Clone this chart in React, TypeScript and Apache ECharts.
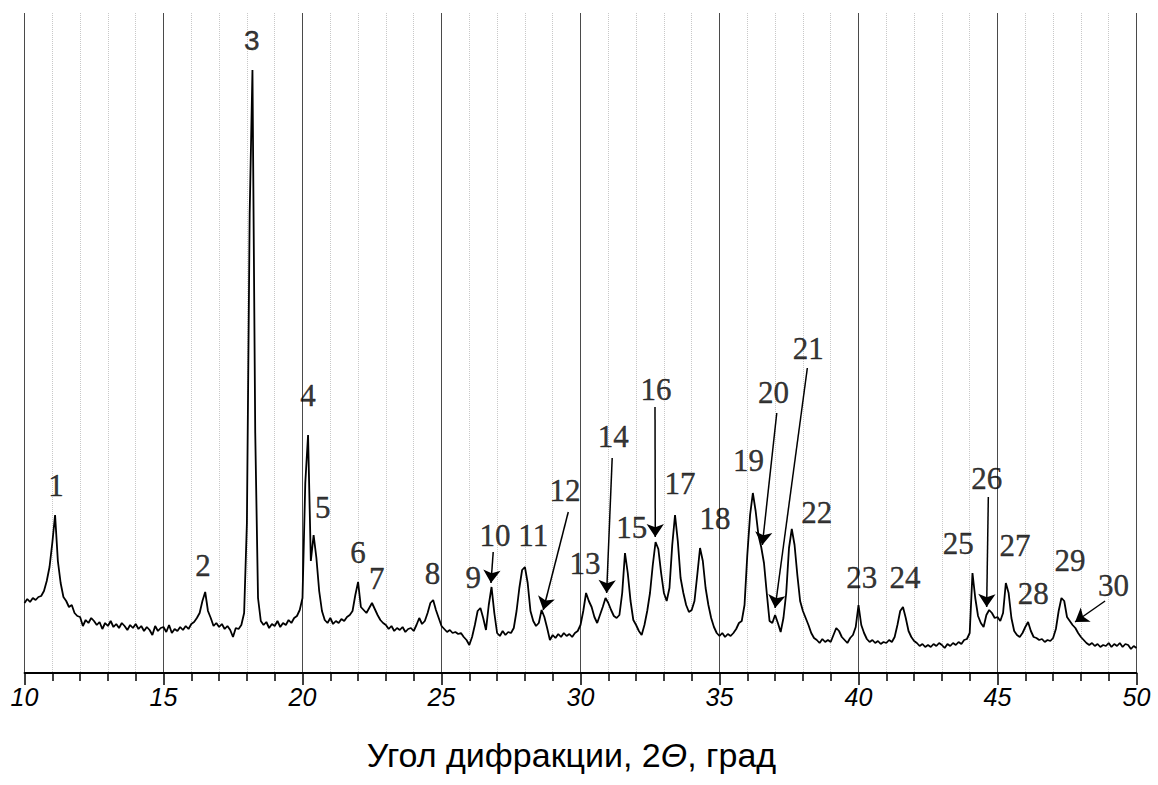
import React, { useEffect, useRef } from "react";
import * as echarts from "echarts";

// 2θ grid: start and step (degrees)
const thetaStart = 10;
const thetaStep = 0.1;

// Intensity, one row per degree (10.0 .. 10.9, 11.0 .. 11.9, ...)
const intensity: number[] = [
  70, 74, 71, 75, 73, 76, 77, 82, 92, 106,
  130, 158, 112, 90, 76, 72, 66, 68, 60, 57,
  56, 47, 53, 50, 55, 52, 48, 51, 44, 50,
  47, 52, 46, 49, 45, 50, 47, 43, 48, 45,
  49, 44, 47, 42, 46, 43, 38, 47, 42, 45,
  46, 41, 48, 40, 44, 42, 46, 43, 47, 44,
  49, 51, 55, 60, 72, 81, 62, 55, 47, 50,
  46, 49, 44, 47, 43, 36, 45, 44, 48, 60,
  150, 460, 603, 240, 75, 52, 48, 51, 45, 49,
  47, 52, 46, 50, 48, 53, 50, 55, 57, 63,
  75, 190, 238, 112, 138, 115, 82, 62, 53, 50,
  55, 49, 52, 50, 54, 52, 56, 58, 62, 78,
  91, 66, 63, 60, 65, 70, 64, 58, 53, 50,
  48, 44, 47, 42, 45, 43, 46, 41, 44, 45,
  42, 48, 55, 49, 52, 60, 70, 73, 63, 55,
  47, 44, 41, 43, 40, 41, 39, 40, 36, 33,
  28, 36, 48, 62, 65, 55, 43, 68, 86, 60,
  40, 37, 42, 38, 41, 40, 45, 62, 85, 103,
  106, 90, 62, 52, 47, 50, 63, 56, 45, 33,
  38, 35, 39, 36, 40, 37, 39, 36, 40, 42,
  48, 62, 80, 72, 66, 56, 50, 58, 66, 75,
  70, 63, 57, 55, 58, 80, 120, 100, 72, 53,
  48, 42, 38, 48, 62, 80, 108, 131, 124, 100,
  80, 72, 85, 128, 158, 132, 95, 80, 68, 61,
  63, 72, 98, 125, 112, 85, 68, 55, 46, 40,
  37, 40, 36, 39, 37, 40, 44, 50, 52, 68,
  118, 158, 180, 162, 138, 126, 110, 80, 52, 50,
  58, 50, 41, 55, 80, 125, 144, 128, 98, 72,
  62, 55, 48, 40, 35, 33, 30, 34, 31, 33,
  31, 38, 45, 42, 36, 33, 30, 35, 38, 46,
  68, 48, 40, 34, 31, 33, 30, 32, 29, 31,
  30, 33, 31, 36, 48, 62, 66, 55, 42, 36,
  32, 30, 27, 29, 26, 28, 26, 29, 27, 30,
  28, 25, 29, 27, 30, 28, 31, 29, 33, 34,
  40, 100, 75, 57, 50, 46, 58, 63, 60, 55,
  56, 52, 60, 90, 80, 55, 42, 38, 36, 40,
  46, 51, 42, 36, 35, 33, 34, 31, 33, 32,
  35, 44, 62, 75, 72, 56, 52, 48, 45, 40,
  36, 33, 30, 28, 30, 27, 29, 26, 28, 27,
  30, 26, 29, 27, 30, 26, 29, 28, 24, 27,
  25,
];

// Peak labels (text, position in 2θ / intensity units)
const peakLabels = ["1", "2", "3", "4", "5", "6", "7", "8", "9", "10", "11", "12", "13", "14", "15",
  "16", "17", "18", "19", "20", "21", "22", "23", "24", "25", "26", "27", "28", "29", "30"];
const peakLabelTheta = [11.13, 16.42, 18.18, 20.2, 20.73, 22.0, 22.67, 24.68, 26.14, 26.92, 28.3, 29.44,
  30.16, 31.18, 31.84, 32.72, 33.58, 34.84, 36.04, 36.94, 38.19, 38.5, 40.12, 41.67, 43.59, 44.61,
  45.63, 46.29, 47.61, 49.17];
const peakLabelI = [188, 108, 633, 278, 166, 121, 95, 100, 96, 138, 138, 183, 110, 237, 146, 284, 190,
  155, 213, 281, 325, 161, 96, 96, 130, 195, 128, 80, 113, 88];
const sansLabels = ["3"];

// Arrows: [θ start, I start, θ tip, I tip]
const arrowFromTheta = [26.86, 29.56, 31.14, 32.68, 37.06, 38.16, 44.67, 48.87];
const arrowFromI = [121, 161, 215, 266, 260, 305, 176, 72];
const arrowToTheta = [26.78, 28.66, 30.94, 32.69, 36.54, 37.0, 44.61, 47.79];
const arrowToI = [90, 63, 80, 136, 128, 65, 66, 51];

const xMin = 10;
const xMax = 50;
const xInterval = 5;
const yMin = 0;
const yMax = 660;

export default function App() {
  const ref = useRef<HTMLDivElement>(null);
  useEffect(() => {
    if (!ref.current) return;
    const chart = echarts.init(ref.current, undefined, { renderer: "svg" });
    const lineData = intensity.map((v, i) => [+(thetaStart + i * thetaStep).toFixed(2), v]);
    const labelData = peakLabels.map((t, i) => ({
      name: t,
      value: [peakLabelTheta[i], peakLabelI[i]],
      label: sansLabels.includes(t)
        ? { fontFamily: "Liberation Sans, Arial, sans-serif", fontSize: 28 }
        : undefined,
    }));
    const arrows = arrowFromTheta.map((x, i) => [
      { coord: [x, arrowFromI[i]] },
      { coord: [arrowToTheta[i], arrowToI[i]] },
    ]);
    chart.setOption({
      animation: false,
      grid: { left: 24.5, right: 21.5, top: 13, bottom: 112 },
      xAxis: {
        type: "value",
        min: xMin,
        max: xMax,
        interval: xInterval,
        axisLine: { show: true, onZero: false, lineStyle: { color: "#000", width: 1.8 } },
        axisTick: { show: true, length: 12, lineStyle: { color: "#000", width: 1.5 } },
        minorTick: { show: true, splitNumber: 5, length: 8, lineStyle: { color: "#000", width: 1.5 } },
        splitLine: { show: true, lineStyle: { color: "#4a4a4a", width: 1, type: "solid" } },
        minorSplitLine: { show: true, lineStyle: { color: "#c8c8c8", width: 1, type: "dotted" } },
        axisLabel: {
          color: "#000",
          fontSize: 25,
          fontStyle: "italic",
          fontFamily: "Liberation Sans, Arial, sans-serif",
          margin: 11,
        },
        name: "{a|Угол дифракции, 2}{b|Θ}{a|, град}",
        nameLocation: "middle",
        nameGap: 65,
        nameTextStyle: {
          padding: [0, 18, 0, 0],
          rich: {
            a: { fontSize: 34, fontFamily: "Liberation Sans, Arial, sans-serif", color: "#000" },
            b: { fontSize: 34, fontFamily: "Liberation Sans, Arial, sans-serif", fontStyle: "italic", color: "#000" },
          },
        },
      },
      yAxis: { type: "value", min: yMin, max: yMax, show: false },
      series: [
        {
          type: "line",
          data: lineData,
          showSymbol: false,
          symbol: "none",
          lineStyle: { color: "#000", width: 1.8 },
          silent: true,
          z: 3,
        },
        {
          type: "scatter",
          data: labelData,
          symbolSize: 1,
          itemStyle: { color: "rgba(0,0,0,0)" },
          silent: true,
          label: {
            show: true,
            position: "inside",
            formatter: "{b}",
            color: "#000",
            textBorderColor: "#000",
            textBorderWidth: 0.4,
            fontFamily: "Liberation Serif, Times New Roman, serif",
            fontSize: 31,
          },
          markLine: {
            silent: true,
            symbol: ["none", "arrow"],
            symbolSize: 13,
            label: { show: false },
            lineStyle: { color: "#000", width: 1.5, type: "solid" },
            data: arrows,
          },
          z: 4,
        },
      ],
    });
    return () => chart.dispose();
  }, []);
  return <div ref={ref} style={{ position: "absolute", left: 0, top: 0, width: 1158, height: 785 }} />;
}
